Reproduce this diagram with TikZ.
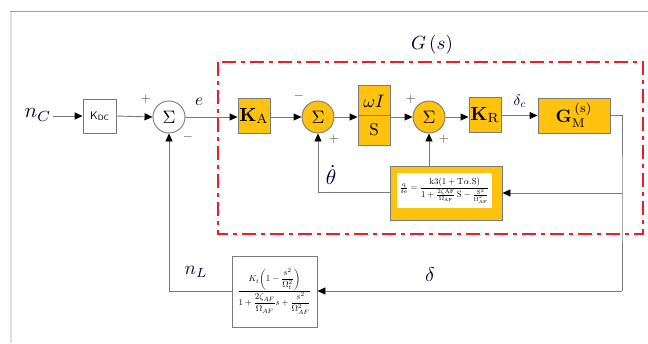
\documentclass[tikz,border=0pt]{standalone}
\usepackage{amsmath}
\usetikzlibrary{arrows.meta}
\definecolor{blkfill}{HTML}{FFC20E}
\definecolor{redbox}{HTML}{EE1C25}
\definecolor{lin}{HTML}{7A7A7A}
\tikzset{
  blk/.style={draw=lin, line width=0.9pt, fill=blkfill, inner sep=0pt, rectangle},
  wblk/.style={draw=lin, line width=0.9pt, fill=white, inner sep=0pt, rectangle},
  sumnode/.style={draw=lin, line width=0.9pt, circle, minimum size=32pt, inner sep=0pt},
  conn/.style={draw=lin, line width=0.9pt},
  arr/.style={conn, -{Triangle[length=8pt,width=7pt,fill=black,color=black]}},
  sgn/.style={inner sep=0pt, text=black!75},
  lbl/.style={inner sep=0pt, text=black!80!blue},
}
\begin{document}
\begin{tikzpicture}[x=1pt,y=-1pt]
\useasboundingbox (0,0) rectangle (648,343);
% frame
\draw[gray!75, line width=1pt] (10,11.5) -- (648,11.5);
\draw[gray!25, line width=1.2pt] (11,11.5) -- (11,343);
% red dash box
\draw[redbox, line width=2.6pt, dash pattern=on 14pt off 5pt on 4pt off 5pt] (218,62) rectangle (643,234);
\node[lbl] (gs) at (432,45) {\scalebox{1.9}{$G\left(s\right)$}};
% nodes
\node[lbl] (nc) at (38,115) {\scalebox{2.1}{$n_C$}};
\node[wblk, minimum width=33pt, minimum height=34pt] (kdc) at (99.5,116) {\scalebox{1.1}{\sffamily K\raisebox{-0.5pt}{\scriptsize DC}}};
\node[sumnode, fill=white] (s1) at (169,117) {\scalebox{1.8}{$\Sigma$}};
\node[blk, minimum width=32pt, minimum height=35pt] (ka) at (254,116) {\scalebox{1.9}{$\mathbf{K}_{\mathrm{A}}$}};
\node[sumnode, fill=blkfill] (s2) at (318,117) {\scalebox{1.8}{$\Sigma$}};
\node[blk, minimum width=32pt, minimum height=60pt] (wi) at (374,115) {};
\draw[lin, line width=0.9pt] (wi.west) -- (wi.east);
\node[inner sep=0pt] (wit) at (374,101) {\scalebox{1.8}{$\omega I$}};
\node[inner sep=0pt] (wib) at (374,130) {\scalebox{1.7}{$\mathrm{S}$}};
\node[sumnode, fill=blkfill] (s3) at (429,117) {\scalebox{1.8}{$\Sigma$}};
\node[blk, minimum width=32pt, minimum height=35pt] (kr) at (485,115) {\scalebox{1.9}{$\mathbf{K}_{\mathrm{R}}$}};
\node[blk, minimum width=72pt, minimum height=35pt] (gm) at (574,115.5) {\scalebox{1.8}{$\mathbf{G}_{\mathrm{M}}^{\,(\mathrm{s})}$}};
% inner feedback block
\node[blk, minimum width=112pt, minimum height=54pt] (fb) at (446,193) {};
\node[fill=white, inner sep=0pt, minimum width=95pt, minimum height=35pt] (fbi) at (444.5,190.5)
  {\resizebox{90pt}{!}{$\frac{\mathrm{q}}{\delta\mathrm{e}}=\dfrac{\mathrm{k3(1+T\alpha.S)}}{1+\frac{2\zeta \mathrm{AF}}{\Omega_{\mathrm{AF}}}\,\mathrm{S}-\frac{\mathrm{S}^2}{\Omega_{\mathrm{AF}}^2}}$}};
% lower block
\node[wblk, minimum width=85pt, minimum height=71pt] (lb) at (274.5,291.5)
  {\resizebox{74pt}{!}{$\dfrac{K_t\!\left(1-\dfrac{s^2}{\Omega_t^2}\right)}{1+\dfrac{2\zeta_{AF}}{\Omega_{AF}}s+\dfrac{s^2}{\Omega_{AF}^2}}$}};
% coordinates
\coordinate (c1) at (622,115.5);
\coordinate (c2) at (622,193);
\coordinate (c3) at (622,291);
\coordinate (c4) at (169,291);
\coordinate (c5) at (318,192);
\coordinate (c0) at (53,116);
% connectors
\draw[arr] (c0) -- (kdc.west);
\draw[arr] (kdc.east) -- (s1.west);
\draw[arr] (s1.east) -- (ka.west |- s1.east);
\draw[arr] (ka.east |- s2.west) -- (s2.west);
\draw[arr] (s2.east) -- (wi.west |- s2.east);
\draw[arr] (wi.east |- s3.west) -- (s3.west);
\draw[arr] (s3.east) -- (kr.west |- s3.east);
\draw[arr] (kr.east |- gm.west) -- (gm.west);
\draw[conn] (gm.east) -- (c1) -- (c2) -- (c3);
\draw[arr] (c2) -- (fb.east |- c2);
\draw[arr] (c3) -- (lb.east |- c3);
\draw[arr] (lb.west |- c4) -- (c4) -- (s1.south);
\draw[arr] (fb.west |- c5) -- (c5) -- (s2.south);
\draw[arr] (fb.north -| s3) -- (s3.south);
% signs and labels
\node[sgn] (p1) at (146,99) {\scalebox{1.3}{$+$}};
\node[sgn] (m1) at (188,137) {\scalebox{1.3}{$-$}};
\node[sgn] (m2) at (299,96) {\scalebox{1.3}{$-$}};
\node[sgn] (p2) at (334,139) {\scalebox{1.3}{$+$}};
\node[sgn] (p3) at (411,99) {\scalebox{1.3}{$+$}};
\node[sgn] (p4) at (444,139) {\scalebox{1.3}{$+$}};
\node[lbl] (e) at (199,102) {\scalebox{1.7}{$e$}};
\node[lbl] (dc) at (520,101) {\scalebox{1.5}{$\delta_c$}};
\node[lbl] (th) at (331,175) {\scalebox{2.1}{$\dot{\theta}$}};
\node[lbl] (d) at (430,275) {\scalebox{2}{$\delta$}};
\node[lbl] (nl) at (196,272) {\scalebox{1.9}{$n_L$}};
\end{tikzpicture}
\end{document}
